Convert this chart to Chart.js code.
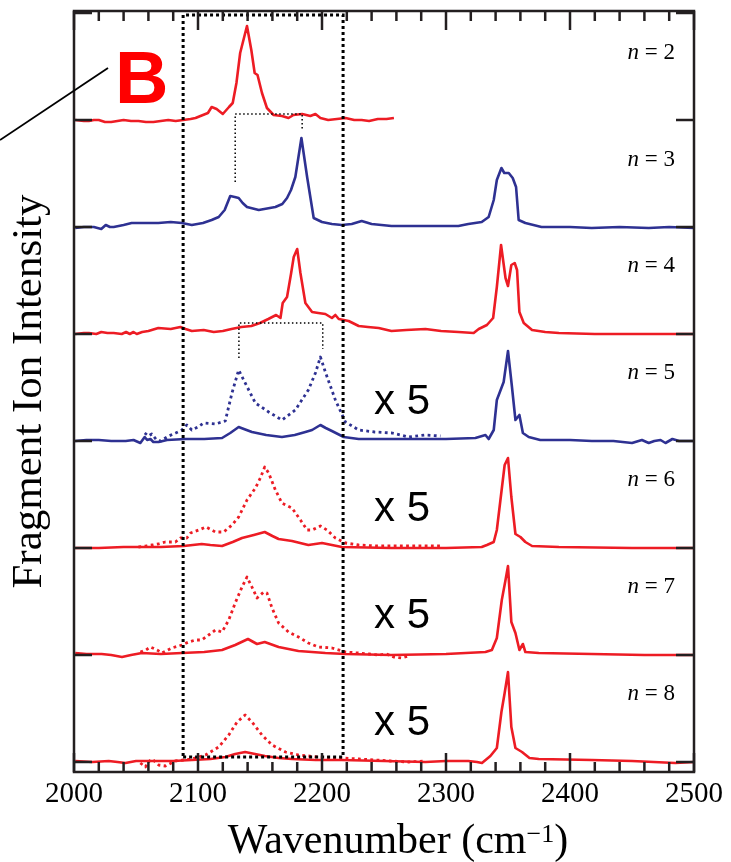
<!DOCTYPE html>
<html>
<head>
<meta charset="utf-8">
<script src="https://cdn.jsdelivr.net/npm/chart.js@4"></script>
<style>
  html, body { margin: 0; padding: 0; background: #fff; }
  canvas { display: block; }
</style>
</head>
<body>
<canvas id="spectra" width="731" height="862"></canvas>
<script>
// cluster sizes, stacked from top to bottom, and the vertical offset of each trace
const clusterSizes = [2, 3, 4, 5, 6, 7, 8];
const baselines = [641, 534, 428, 321, 214, 107, 0];
const magnified = [5, 6, 7, 8];          // traces with an extra "x 5" dotted curve
const xTicks = [2000, 2100, 2200, 2300, 2400, 2500];
const yTicks = [0, 107, 214, 321, 428, 535, 642, 749];

// [wavenumber, intensity]
const n2Solid = [[2001,1],[2008,0],[2012,0],[2016,1],[2020,1],[2025,-1],[2030,-1],[2035,0],[2040,1],[2046,0],[2052,0],[2058,-1],[2064,-1],[2070,0],[2076,1],[2082,0],[2088,1],[2094,2],[2098,3],[2104,6],[2108,8],[2111,14],[2115,12],[2120,7],[2125,14],[2128,18],[2131,38],[2134,68],[2139.5,95],[2143,71],[2145.7,48],[2148,46],[2151.6,28],[2155.6,13],[2161,6],[2167.7,5],[2173,3],[2177,6],[2184,7],[2190.6,5],[2194.7,7],[2198.7,3],[2205,1],[2212,2],[2219,3],[2226,1],[2232,1],[2238,0],[2245,2],[2252,2],[2258,3]];

const n3Solid = [[2001,0],[2008,1],[2016,1],[2022,-1],[2025.6,3],[2029,1],[2032,1],[2040,3],[2046.5,5],[2056,5],[2068,5],[2078,6],[2087,5],[2095,3],[2104,5],[2111,8],[2116.7,11],[2121.5,18],[2126,32],[2129.6,31],[2132.8,30],[2136,25],[2139.5,21],[2149,18],[2162.4,21],[2168,24],[2171.8,30],[2175,38],[2178.5,51],[2183.4,90],[2188,51],[2193.3,10],[2200,6],[2208,4],[2216,3],[2224,4],[2232,7],[2240,4],[2256,2],[2270,2],[2286,2],[2300,2],[2310,2],[2318,4],[2328.8,6],[2334.4,11],[2338.5,28],[2341,48],[2344.7,60],[2347,55],[2350.6,55],[2353.8,50],[2356.5,41],[2358.6,8],[2364,5],[2377,1],[2400,1],[2417.5,0],[2440,1],[2463.5,0],[2480,1],[2500,0]];

const n4Solid = [[2001,0],[2008,1],[2012,1],[2018,0],[2022,2],[2027,1],[2032,1],[2038.5,0],[2042,2],[2045,0],[2048,2],[2050.6,0],[2055,2],[2060,3],[2068,6],[2078,5],[2085.8,7],[2090,5],[2095,3],[2104.6,4],[2112.7,2],[2120,3],[2127,5],[2135,7],[2143,8],[2150,11],[2156.7,15],[2163,19],[2166.5,16],[2168.3,31],[2171.8,37],[2175,60],[2177.2,77],[2180,85],[2182.6,61],[2186.6,31],[2192,22],[2197,21],[2202.7,20],[2208,16],[2210.8,19],[2213.5,15],[2221.5,13],[2229.6,8],[2237,7],[2245.7,6],[2256,3],[2268,4],[2283.4,5],[2296,3],[2310,2],[2322.3,1],[2326.4,5],[2333,9],[2338,16],[2341,47],[2344.4,89],[2348,56],[2350,48],[2352.7,69],[2355.4,71],[2357.3,64],[2359.2,22],[2362.7,11],[2369.4,4],[2380,2],[2391,1],[2420,0],[2440,0],[2500,0]];

const n5Solid = [[2001,0],[2010,1],[2020,1],[2030,0],[2041.7,0],[2048,1],[2053.5,-2],[2057,4],[2059,1],[2061.6,2],[2064,-1],[2068.3,-1],[2075,1],[2090,2],[2105,2],[2119.4,3],[2126,8],[2132.8,14],[2137,12],[2143.5,9],[2155,6],[2167.7,4],[2178,6],[2186.6,9],[2192,11],[2198.7,16],[2203,13],[2208,10],[2217.5,4],[2229.6,2],[2250,2],[2278,2],[2300,2],[2323.7,3],[2331.8,6],[2334.4,2],[2338.5,11],[2341,41],[2346.5,59],[2350,90],[2353.2,54],[2356,21],[2359.2,26],[2362,8],[2366.7,4],[2376,1],[2400,1],[2417.7,0],[2435,0],[2450,-2],[2458,1],[2463.5,-2],[2468,0],[2473,1],[2477,-2],[2482.6,2],[2488,0],[2500,0]];
const n5Dotted = [[2057,8],[2060,5],[2062.7,7],[2066.7,1],[2070,0],[2076.4,5],[2082,8],[2087,11],[2091,16],[2095,11],[2100,14],[2104.6,18],[2114,17],[2122,20],[2127.4,48],[2132.8,71],[2136.8,61],[2146.3,38],[2157,29],[2167.7,21],[2178.5,31],[2189,51],[2194.7,68],[2198.7,84],[2202.7,69],[2210.8,41],[2218.9,19],[2229.6,11],[2242.5,9],[2256.5,8],[2270,4],[2283.4,6],[2295.5,5]];

const n6Solid = [[2001,0],[2020,0],[2040,1],[2052,1],[2070,1],[2088.5,2],[2103,4],[2110,3],[2119.4,2],[2128,6],[2135.5,10],[2145,13],[2153.8,16],[2160,12],[2165,9],[2175.8,7],[2189,3],[2200,5],[2208,3],[2216,1],[2256,0],[2300,0],[2328.8,1],[2333,3],[2338.5,6],[2341,18],[2343.9,48],[2347.3,83],[2350,90],[2352.7,51],[2356,14],[2360,11],[2364,6],[2369.4,2],[2391,1],[2450,0],[2500,0]];
const n6Dotted = [[2052,1],[2058,2],[2063,3],[2068,4],[2073.7,6],[2081.8,6],[2085.8,10],[2091,10],[2094,15],[2100.6,18],[2106.5,21],[2114,16],[2120.7,16],[2127.4,23],[2132.8,31],[2139.5,48],[2146.3,60],[2150.3,70],[2153.8,81],[2157,75],[2162.4,58],[2167.7,45],[2175.8,40],[2182.6,28],[2188,18],[2192,18],[2198.7,22],[2204,18],[2210.8,10],[2218.9,5],[2229.6,3],[2245,2],[2261.8,2],[2280,2],[2295.5,2]];

const n7Solid = [[2001,2],[2010,1],[2022.3,1],[2030,0],[2038.7,-2],[2046,0],[2054.8,2],[2070,1],[2087,2],[2105,3],[2119.4,5],[2130,10],[2140.3,16],[2147.6,11],[2153.8,13],[2165,8],[2181,4],[2202.7,2],[2218.9,1],[2256,0],[2300,1],[2331.8,3],[2337,5],[2341,17],[2345,55],[2348,75],[2350,89],[2352.7,33],[2356,22],[2359.2,5],[2362,11],[2364,3],[2374.8,2],[2417.5,1],[2460,0],[2500,0]];
const n7Dotted = [[2053.5,3],[2058,5],[2061.6,8],[2067,5],[2071,2],[2079,7],[2087,10],[2092.5,13],[2098,15],[2103,15],[2108.6,20],[2114,25],[2119.4,23],[2124.8,35],[2130,52],[2135.5,68],[2139.5,78],[2143.5,68],[2147.6,57],[2153,63],[2155.6,62],[2159.7,47],[2165,32],[2173,23],[2181,18],[2189,12],[2197,8],[2208,7],[2218.9,3],[2229.6,2],[2238,1],[2245.7,0],[2252,1],[2257.8,-2],[2264,-3],[2269.9,-1]];

const n8Solid = [[2001,1],[2015,0],[2028,1],[2035,0],[2041.5,-1],[2050,1],[2063,1],[2080,1],[2095,2],[2110,3],[2122,5],[2130,8],[2138,10],[2146,8],[2154,6],[2165,4],[2175.8,3],[2195,2],[2216,2],[2250,1],[2283.4,0],[2300,1],[2318,1],[2325,0],[2329,-1],[2335.8,6],[2341,14],[2344.7,50],[2347.3,69],[2350,90],[2352.7,35],[2356,14],[2361.3,10],[2367.3,4],[2374.8,3],[2417.7,2],[2450,1],[2485,-1],[2500,0]];
const n8Dotted = [[2053.5,-1],[2057.6,-5],[2060,0],[2063,3],[2068.3,-3],[2073.7,-4],[2081.8,1],[2088,2],[2095,3],[2106,7],[2116.7,15],[2124.8,27],[2131.5,40],[2138,47],[2143.5,40],[2151.6,27],[2159.7,17],[2170.5,10],[2181,7],[2197,5],[2216,4],[2230,3],[2243,2],[2255,1],[2269.9,0],[2283.4,1]];

// dotted guide box and the two correlation brackets, in axis units
const guideBox = [[2088,5],[2217,5],[2217,747],[2088,747],[2088,5]];
const bracket23 = [[2130,580],[2130,648],[2184,648],[2184,632]];
const bracket45 = [[2133,404],[2133,439],[2200.6,439],[2200.6,413]];

const RED = '#ed1c24';
const NAVY = '#2e3192';
const SERIF = '"Liberation Serif", "Times New Roman", serif';
const SANS = '"Liberation Sans", Arial, sans-serif';

Chart.defaults.font.family = SERIF;
Chart.defaults.color = '#000';

const toXY = (points, offset) => points.map(([x, y]) => ({ x, y: y + offset }));

function trace(points, n, color, dotted) {
    const offset = baselines[clusterSizes.indexOf(n)];
    return {
        data: toXY(points, offset),
        borderColor: color,
        borderWidth: dotted ? 2.8 : 2.6,
        borderDash: dotted ? [2.8, 3.4] : [],
        borderJoinStyle: 'round',
        pointRadius: 0,
        tension: 0,
        fill: false
    };
}

function guide(points, width, dash) {
    return {
        data: toXY(points, 0),
        borderColor: '#000',
        borderWidth: width,
        borderDash: dash,
        pointRadius: 0,
        tension: 0,
        fill: false
    };
}

const datasets = [
    guide(guideBox, 3, [3, 3]),
    guide(bracket23, 1.5, [1.5, 2.5]),
    guide(bracket45, 1.5, [1.5, 2.5]),
    trace(n2Solid, 2, RED, false),
    trace(n3Solid, 3, NAVY, false),
    trace(n4Solid, 4, RED, false),
    trace(n5Dotted, 5, NAVY, true),
    trace(n5Solid, 5, NAVY, false),
    trace(n6Dotted, 6, RED, true),
    trace(n6Solid, 6, RED, false),
    trace(n7Dotted, 7, RED, true),
    trace(n7Solid, 7, RED, false),
    trace(n8Dotted, 8, RED, true),
    trace(n8Solid, 8, RED, false)
];

// frame, inward ticks and the text written inside the figure
const decorations = {
    id: 'decorations',
    afterDatasetsDraw(chart) {
        const { ctx, chartArea: a, scales: { x, y } } = chart;
        const line = (x1, y1, x2, y2) => {
            ctx.beginPath();
            ctx.moveTo(x1, y1);
            ctx.lineTo(x2, y2);
            ctx.stroke();
        };
        ctx.save();
        ctx.strokeStyle = '#231f20';
        ctx.lineWidth = 2.5;
        ctx.strokeRect(a.left, a.top, a.right - a.left, a.bottom - a.top);

        for (let v = 2000; v <= 2500; v += 20) {
            const px = x.getPixelForValue(v);
            const len = v % 100 === 0 ? 19 : 10;
            line(px, a.bottom, px, a.bottom - len);
            line(px, a.top, px, a.top + len);
        }
        yTicks.forEach(v => {
            const py = y.getPixelForValue(v);
            line(a.left, py, a.left + 18, py);
            line(a.right, py, a.right - 18, py);
        });

        // n = ... labels, right aligned
        ctx.fillStyle = '#000';
        ctx.textBaseline = 'alphabetic';
        clusterSizes.forEach((n, i) => {
            const py = y.getPixelForValue(baselines[i] + 62);
            const rest = ' = ' + n;
            ctx.font = 'italic 23px ' + SERIF;
            const wn = ctx.measureText('n').width;
            ctx.font = '23px ' + SERIF;
            const wr = ctx.measureText(rest).width;
            const x0 = 675 - wn - wr;
            ctx.font = 'italic 23px ' + SERIF;
            ctx.fillText('n', x0, py);
            ctx.font = '23px ' + SERIF;
            ctx.fillText(rest, x0 + wn, py);
        });

        // x 5 magnification labels
        ctx.font = '42px ' + SANS;
        magnified.forEach(n => {
            const py = y.getPixelForValue(baselines[clusterSizes.indexOf(n)] + 27);
            ctx.fillText('x 5', 374, py);
        });

        // panel letter and its pointer
        ctx.fillStyle = '#ff0000';
        ctx.font = 'bold 74px ' + SANS;
        ctx.fillText('B', 115, 103);
        ctx.strokeStyle = '#000';
        ctx.lineWidth = 1.8;
        line(0, 140, 108, 68);

        // x axis title with superscript
        ctx.fillStyle = '#000';
        const main = 'Wavenumber (cm';
        const sup = '\u22121';
        ctx.font = '42px ' + SERIF;
        const w1 = ctx.measureText(main).width;
        const w3 = ctx.measureText(')').width;
        ctx.font = '26px ' + SERIF;
        const w2 = ctx.measureText(sup).width;
        const cx = 398;
        let tx = cx - (w1 + w2 + w3) / 2;
        ctx.font = '42px ' + SERIF;
        ctx.fillText(main, tx, 853);
        tx += w1;
        ctx.font = '26px ' + SERIF;
        ctx.fillText(sup, tx, 842);
        tx += w2;
        ctx.font = '42px ' + SERIF;
        ctx.fillText(')', tx, 853);
        ctx.restore();
    }
};

new Chart(document.getElementById('spectra').getContext('2d'), {
    type: 'line',
    data: { datasets },
    options: {
        responsive: false,
        animation: false,
        layout: { padding: { left: 0, right: 37, top: 11, bottom: 0 } },
        plugins: {
            legend: { display: false },
            tooltip: { enabled: false }
        },
        scales: {
            x: {
                type: 'linear',
                min: 2000,
                max: 2500,
                afterFit: scale => { scale.height = 90; },
                afterBuildTicks: scale => { scale.ticks = xTicks.map(v => ({ value: v })); },
                grid: { display: false, drawTicks: false },
                border: { display: false },
                ticks: {
                    padding: 5,
                    maxRotation: 0,
                    color: '#000',
                    font: { family: SERIF, size: 29, style: 'normal' },
                    callback: v => String(v)
                }
            },
            y: {
                type: 'linear',
                min: -10,
                max: 751,
                afterFit: scale => { scale.width = 74; },
                grid: { display: false, drawTicks: false },
                border: { display: false },
                ticks: { display: false },
                title: {
                    display: true,
                    text: 'Fragment Ion Intensity',
                    color: '#000',
                    font: { family: SERIF, size: 43 },
                    padding: { top: 4, bottom: 0 }
                }
            }
        }
    },
    plugins: [decorations]
});
</script>
</body>
</html>
